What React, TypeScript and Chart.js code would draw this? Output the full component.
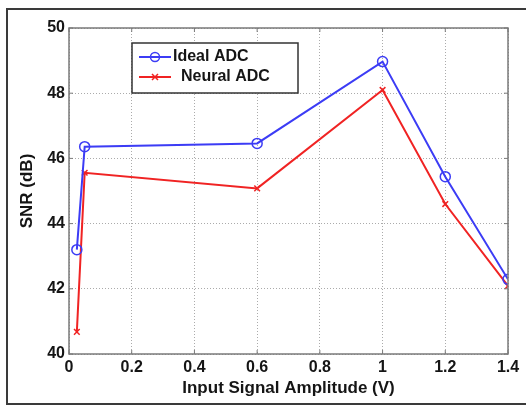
import React, { useEffect, useRef } from "react";
import { Chart, registerables } from "chart.js";

Chart.register(...registerables);

const amplitudes = [0.025, 0.05, 0.6, 1.0, 1.2, 1.4];
const idealSNR = [43.2, 46.36, 46.46, 48.97, 45.44, 42.29];
const neuralSNR = [40.68, 45.56, 45.08, 48.1, 44.6, 42.09];
const xTicks = [0, 0.2, 0.4, 0.6, 0.8, 1, 1.2, 1.4];
const yTicks = [40, 42, 44, 46, 48, 50];
const seriesNames = ["Ideal ADC", "Neural ADC"];

const BLUE = "rgb(60,60,245)";
const RED = "rgb(240,35,35)";
const FONT = "'Liberation Sans', Arial, sans-serif";
const TEXT = "#151515";

const decorPlugin = {
  id: "decor",
  afterDraw(chart: any) {
    const { ctx, chartArea: a } = chart;
    ctx.save();
    // axes box
    ctx.strokeStyle = "#7a7a7a";
    ctx.lineWidth = 1.5;
    ctx.strokeRect(a.left, a.top, a.right - a.left, a.bottom - a.top);
    // inward ticks
    const xs = chart.scales.x;
    const ys = chart.scales.y;
    ctx.lineWidth = 1;
    xTicks.forEach((t) => {
      const px = xs.getPixelForValue(t);
      ctx.beginPath();
      ctx.moveTo(px, a.bottom);
      ctx.lineTo(px, a.bottom - 4);
      ctx.moveTo(px, a.top);
      ctx.lineTo(px, a.top + 4);
      ctx.stroke();
    });
    yTicks.forEach((t) => {
      const py = ys.getPixelForValue(t);
      ctx.beginPath();
      ctx.moveTo(a.left, py);
      ctx.lineTo(a.left + 4, py);
      ctx.moveTo(a.right, py);
      ctx.lineTo(a.right - 4, py);
      ctx.stroke();
    });
    // legend
    const bx = 132, by = 43, bw = 166, bh = 50;
    ctx.fillStyle = "#fff";
    ctx.fillRect(bx, by, bw, bh);
    ctx.strokeStyle = "#333";
    ctx.lineWidth = 1.5;
    ctx.strokeRect(bx, by, bw, bh);
    const rows = [
      { y: 57, color: BLUE, name: seriesNames[0], tx: 173, marker: "o" },
      { y: 77, color: RED, name: seriesNames[1], tx: 181, marker: "x" },
    ];
    rows.forEach((r) => {
      ctx.strokeStyle = r.color;
      ctx.lineWidth = 2;
      ctx.beginPath();
      ctx.moveTo(139, r.y);
      ctx.lineTo(171, r.y);
      ctx.stroke();
      ctx.lineWidth = 1.5;
      ctx.beginPath();
      if (r.marker === "o") {
        ctx.arc(155, r.y, 4.5, 0, Math.PI * 2);
      } else {
        ctx.moveTo(152, r.y - 3);
        ctx.lineTo(158, r.y + 3);
        ctx.moveTo(158, r.y - 3);
        ctx.lineTo(152, r.y + 3);
      }
      ctx.stroke();
      ctx.fillStyle = TEXT;
      ctx.font = `bold 16px ${FONT}`;
      ctx.textBaseline = "middle";
      ctx.textAlign = "left";
      ctx.fillText(r.name, r.tx, r.y);
    });
    // outer frame
    ctx.strokeStyle = "#3a3a3a";
    ctx.lineWidth = 2;
    ctx.beginPath();
    ctx.moveTo(527, 9);
    ctx.lineTo(7, 9);
    ctx.lineTo(7, 404);
    ctx.lineTo(527, 404);
    ctx.stroke();
    ctx.restore();
  },
};

export default function App() {
  const ref = useRef<HTMLCanvasElement>(null);
  useEffect(() => {
    document.body.style.margin = "0";
    const chart = new Chart(ref.current!, {
      type: "line",
      data: {
        datasets: [
          {
            label: seriesNames[0],
            data: amplitudes.map((x, i) => ({ x, y: idealSNR[i] })),
            borderColor: BLUE,
            borderWidth: 2,
            pointStyle: "circle",
            pointRadius: 5,
            pointBorderWidth: 1.5,
            pointBorderColor: BLUE,
            pointBackgroundColor: "rgba(0,0,0,0)",
            tension: 0,
          },
          {
            label: seriesNames[1],
            data: amplitudes.map((x, i) => ({ x, y: neuralSNR[i] })),
            borderColor: RED,
            borderWidth: 2,
            pointStyle: "crossRot",
            pointRadius: 4,
            pointBorderWidth: 1.5,
            pointBorderColor: RED,
            pointBackgroundColor: RED,
            tension: 0,
          },
        ],
      },
      options: {
        responsive: false,
        animation: false,
        events: [],
        layout: { padding: { left: 0, top: 28, right: 18, bottom: 0 } },
        plugins: { legend: { display: false }, tooltip: { enabled: false } },
        scales: {
          x: {
            type: "linear",
            min: 0,
            max: 1.4,
            afterFit: (s: any) => {
              s.height = 53;
            },
            afterBuildTicks: (s: any) => {
              s.ticks = xTicks.map((v) => ({ value: v }));
            },
            ticks: {
              padding: 4,
              color: TEXT,
              font: { family: FONT, size: 16, weight: "bold" },
              callback: (v: any) => String(v),
              maxRotation: 0,
              autoSkip: false,
            },
            grid: {
              color: "rgba(150,150,150,0.8)",
              lineWidth: 1,
              drawTicks: false,
            },
            border: { display: false, dash: [1, 2] },
            title: {
              display: true,
              text: "Input Signal Amplitude (V)",
              color: TEXT,
              font: { family: FONT, size: 17, weight: "bold" },
              padding: { top: 0, bottom: 8 },
            },
          },
          y: {
            type: "linear",
            min: 40,
            max: 50,
            afterFit: (s: any) => {
              s.width = 69;
            },
            afterBuildTicks: (s: any) => {
              s.ticks = yTicks.map((v) => ({ value: v }));
            },
            ticks: {
              padding: 4,
              color: TEXT,
              font: { family: FONT, size: 16, weight: "bold" },
              autoSkip: false,
            },
            grid: {
              color: "rgba(150,150,150,0.8)",
              lineWidth: 1,
              drawTicks: false,
            },
            border: { display: false, dash: [1, 2] },
            title: {
              display: true,
              text: "SNR (dB)",
              color: TEXT,
              font: { family: FONT, size: 17, weight: "bold" },
              padding: { top: 17, bottom: 0 },
            },
          },
        },
      },
      plugins: [decorPlugin],
    });
    return () => chart.destroy();
  }, []);
  return (
    <div style={{ position: "fixed", left: 0, top: 0, width: 526, height: 407, background: "#fff" }}>
      <canvas ref={ref} width={526} height={407} style={{ display: "block" }} />
    </div>
  );
}
